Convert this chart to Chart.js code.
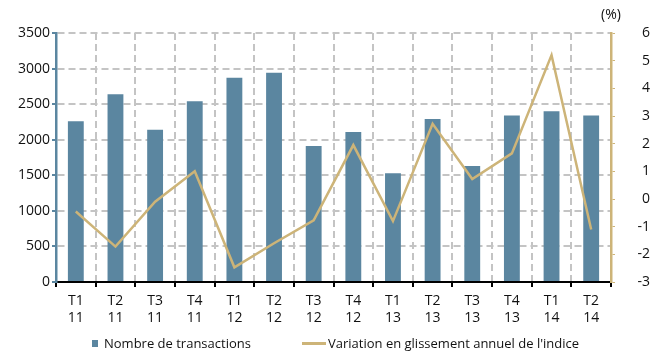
<!DOCTYPE html>
<html>
<head>
<meta charset="utf-8">
<script src="https://cdn.jsdelivr.net/npm/chart.js@4"></script>
<style>
  html, body { margin: 0; padding: 0; background: #fff; overflow: hidden; }
  #wrap { position: relative; width: 650px; height: 351px; }
  #chart { display: block; }
  #legend {
    position: absolute; left: 0; top: 335px; width: 650px; height: 16px;
    font-family: "Open Sans", sans-serif; font-size: 13px; line-height: 16px; color: #111;
  }
  #legend .item { position: absolute; top: 0; height: 16px; display: flex; align-items: center; white-space: nowrap; }
  #legend .box { width: 6px; height: 7px; background: #5b86a0; margin-right: 6px; }
  #legend .line { width: 24px; height: 3px; background: #cdb478; margin-right: 2px; }
</style>
</head>
<body>
<div id="wrap">
  <canvas id="chart" width="650" height="351"></canvas>
  <div id="legend">
    <span class="item" style="left:92px"><span class="box"></span>Nombre de transactions</span>
    <span class="item" style="left:302px"><span class="line"></span>Variation en glissement annuel de l'indice</span>
  </div>
</div>
<script>
const quarters = [["T1", "11"], ["T2", "11"], ["T3", "11"], ["T4", "11"],
  ["T1", "12"], ["T2", "12"], ["T3", "12"], ["T4", "12"],
  ["T1", "13"], ["T2", "13"], ["T3", "13"], ["T4", "13"],
  ["T1", "14"], ["T2", "14"]];
const transactions = [2260, 2640, 2140, 2540, 2870, 2940, 1910, 2110, 1530, 2290, 1630, 2340, 2400, 2340];
const indexChange = [-0.45, -1.72, -0.1, 1.0, -2.47, -1.6, -0.77, 1.95, -0.8, 2.72, 0.72, 1.65, 5.2, -1.1];
const transactionsLabel = "Nombre de transactions";
const indexLabel = "Variation en glissement annuel de l'indice";

const barColor = "#5b86a0";
const lineColor = "#cdb478";
const gridColor = "#c4c4c4";
const font = { family: "'Open Sans', sans-serif", size: 14 };

// "(%)" above the right-hand axis
const percentTitle = {
  id: "percentTitle",
  afterDraw(chart) {
    const ctx = chart.ctx;
    const area = chart.chartArea;
    ctx.save();
    ctx.font = "14px 'Open Sans', sans-serif";
    ctx.fillStyle = "#111";
    ctx.textAlign = "center";
    ctx.textBaseline = "middle";
    ctx.fillText("(%)", area.right, 15);
    ctx.restore();
  },
};

new Chart(document.getElementById("chart"), {
  data: {
    labels: quarters,
    datasets: [
      {
        type: "line",
        label: indexLabel,
        yAxisID: "pct",
        data: indexChange,
        borderColor: lineColor,
        borderWidth: 2.5,
        pointRadius: 0,
        tension: 0,
        order: 0,
      },
      {
        type: "bar",
        label: transactionsLabel,
        yAxisID: "count",
        data: transactions,
        backgroundColor: barColor,
        barPercentage: 0.4,
        categoryPercentage: 1,
        order: 1,
      },
    ],
  },
  options: {
    responsive: false,
    animation: false,
    layout: { padding: { top: 33, bottom: 22, left: 0, right: 0 } },
    plugins: {
      legend: { display: false },
      tooltip: { enabled: false },
    },
    scales: {
      x: {
        offset: true,
        grid: {
          offset: true,
          color: gridColor,
          lineWidth: 2,
          tickColor: "#000",
          tickLength: 5,
        },
        border: { color: "#000", width: 2, dash: [7, 4] },
        ticks: { font: font, color: "#111", padding: 6, maxRotation: 0 },
        afterFit(scale) { scale.height = 47; },
      },
      count: {
        type: "linear",
        position: "left",
        min: 0,
        max: 3500,
        ticks: {
          stepSize: 500,
          font: font,
          color: "#111",
          padding: 2,
          callback: (v) => String(v),
        },
        grid: {
          color: gridColor,
          lineWidth: 2,
          tickColor: barColor,
          tickLength: 4,
        },
        border: { color: barColor, width: 2.5, dash: [7, 4] },
        afterFit(scale) { scale.width = 56; },
      },
      pct: {
        type: "linear",
        position: "right",
        min: -3,
        max: 6,
        ticks: { stepSize: 1, font: font, color: "#111", padding: 7, crossAlign: "far" },
        grid: {
          drawOnChartArea: false,
          tickColor: lineColor,
          tickLength: 4,
        },
        border: { color: lineColor, width: 2.5 },
        afterFit(scale) { scale.width = 39; },
      },
    },
  },
  plugins: [percentTitle],
});
</script>
</body>
</html>
